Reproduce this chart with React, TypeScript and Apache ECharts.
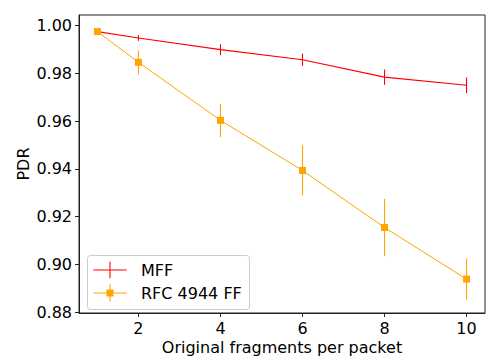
import React, { useEffect, useRef } from "react";
import * as echarts from "echarts";

const xValues = [1, 2, 4, 6, 8, 10];
const mffValues = [0.9975, 0.9948, 0.9899, 0.9857, 0.9784, 0.975];
const mffErrors = [0.0003, 0.0012, 0.0023, 0.0026, 0.0032, 0.0033];
const rfcValues = [0.9975, 0.9846, 0.9603, 0.9393, 0.9154, 0.8938];
const rfcErrors = [0.0003, 0.005, 0.007, 0.0105, 0.012, 0.0086];
const xTicks = [2, 4, 6, 8, 10];
const yTicks = [0.88, 0.9, 0.92, 0.94, 0.96, 0.98, 1.0];
const seriesNames = ["MFF", "RFC 4944 FF"];

const RED = "#ff0000";
const ORANGE = "#ffa500";
const FONT = "DejaVu Sans";

function errorSeries(values: number[], errors: number[], color: string, z: number) {
  return {
    type: "custom",
    clip: false,
    z,
    silent: true,
    data: xValues.map((x, i) => [x, values[i] - errors[i], values[i] + errors[i]]),
    renderItem: (_params: any, api: any) => {
      const x = api.value(0);
      const p1 = api.coord([x, api.value(1)]);
      const p2 = api.coord([x, api.value(2)]);
      return {
        type: "line",
        shape: { x1: p1[0], y1: p1[1], x2: p2[0], y2: p2[1] },
        style: { stroke: color, lineWidth: 1.1 },
      };
    },
  };
}

export default function App() {
  const ref = useRef<HTMLDivElement>(null);
  useEffect(() => {
    if (!ref.current) return;
    const chart = echarts.init(ref.current, undefined, { renderer: "svg" });
    const gl = 87.5;
    const gt = 255.5;
    chart.setOption({
      animation: false,
      backgroundColor: "#ffffff",
      textStyle: { fontFamily: FONT },
      grid: {
        left: 79,
        top: 15,
        width: 406,
        height: 301,
        show: true,
        borderColor: "#222",
        borderWidth: 1,
        backgroundColor: "transparent",
      },
      xAxis: {
        type: "value",
        min: 0.55,
        max: 10.45,
        name: "Original fragments per packet",
        nameLocation: "middle",
        nameGap: 26,
        nameMoveOverlap: false,
        nameTextStyle: { fontSize: 16, color: "#000", fontFamily: FONT },
        axisLine: { show: true, lineStyle: { color: "#222", width: 1 } },
        axisTick: { show: true, length: 4, customValues: xTicks, lineStyle: { color: "#222" } },
        axisLabel: {
          customValues: xTicks,
          fontSize: 16,
          color: "#000",
          margin: 7,
          fontFamily: FONT,
        },
        splitLine: { show: false },
      },
      yAxis: {
        type: "value",
        min: 0.87959,
        max: 1.00444,
        name: "PDR",
        nameLocation: "middle",
        nameGap: 48,
        nameMoveOverlap: false,
        nameTextStyle: { fontSize: 16, color: "#000", fontFamily: FONT },
        axisLine: { show: true, lineStyle: { color: "#222", width: 1 } },
        axisTick: { show: true, length: 4, customValues: yTicks, lineStyle: { color: "#222" } },
        axisLabel: {
          customValues: yTicks,
          fontSize: 16,
          color: "#000",
          margin: 7,
          fontFamily: FONT,
          formatter: (v: number) => v.toFixed(2),
        },
        splitLine: { show: false },
      },
      series: [
        {
          name: seriesNames[0],
          type: "line",
          z: 2,
          data: xValues.map((x, i) => [x, mffValues[i]]),
          showSymbol: false,
          symbol: "none",
          lineStyle: { color: RED, width: 1.2 },
          itemStyle: { color: RED },
        },
        errorSeries(mffValues, mffErrors, RED, 3),
        {
          name: seriesNames[1],
          type: "line",
          z: 5,
          data: xValues.map((x, i) => [x, rfcValues[i]]),
          symbol: "rect",
          symbolSize: 7,
          lineStyle: { color: ORANGE, width: 1 },
          itemStyle: { color: ORANGE },
        },
        errorSeries(rfcValues, rfcErrors, ORANGE, 4),
      ],
      graphic: [
        {
          type: "rect",
          shape: { x: gl, y: gt, width: 162, height: 54, r: 3 },
          style: { fill: "rgba(255,255,255,0.8)", stroke: "#cccccc", lineWidth: 1 },
          z: 10,
        },
        { type: "line", shape: { x1: 93.3, y1: 270, x2: 126.7, y2: 270 }, style: { stroke: RED, lineWidth: 1.2 }, z: 11 },
        { type: "line", shape: { x1: 110, y1: 261.7, x2: 110, y2: 278.3 }, style: { stroke: RED, lineWidth: 1.1 }, z: 11 },
        { type: "line", shape: { x1: 93.3, y1: 293, x2: 126.7, y2: 293 }, style: { stroke: ORANGE, lineWidth: 1 }, z: 11 },
        { type: "line", shape: { x1: 110, y1: 284.3, x2: 110, y2: 301.7 }, style: { stroke: ORANGE, lineWidth: 1.1 }, z: 11 },
        { type: "rect", shape: { x: 106.5, y: 289.5, width: 7, height: 7 }, style: { fill: ORANGE }, z: 12 },
        {
          type: "text",
          x: 141,
          y: 270,
          style: { text: seriesNames[0], fontSize: 16, fontFamily: FONT, fill: "#000", verticalAlign: "middle", align: "left" },
          z: 12,
        },
        {
          type: "text",
          x: 141,
          y: 293,
          style: { text: seriesNames[1], fontSize: 16, fontFamily: FONT, fill: "#000", verticalAlign: "middle", align: "left" },
          z: 12,
        },
      ],
    });
    return () => chart.dispose();
  }, []);
  return (
    <div
      ref={ref}
      style={{ position: "fixed", left: 0, top: 0, width: 487, height: 360 }}
    />
  );
}
